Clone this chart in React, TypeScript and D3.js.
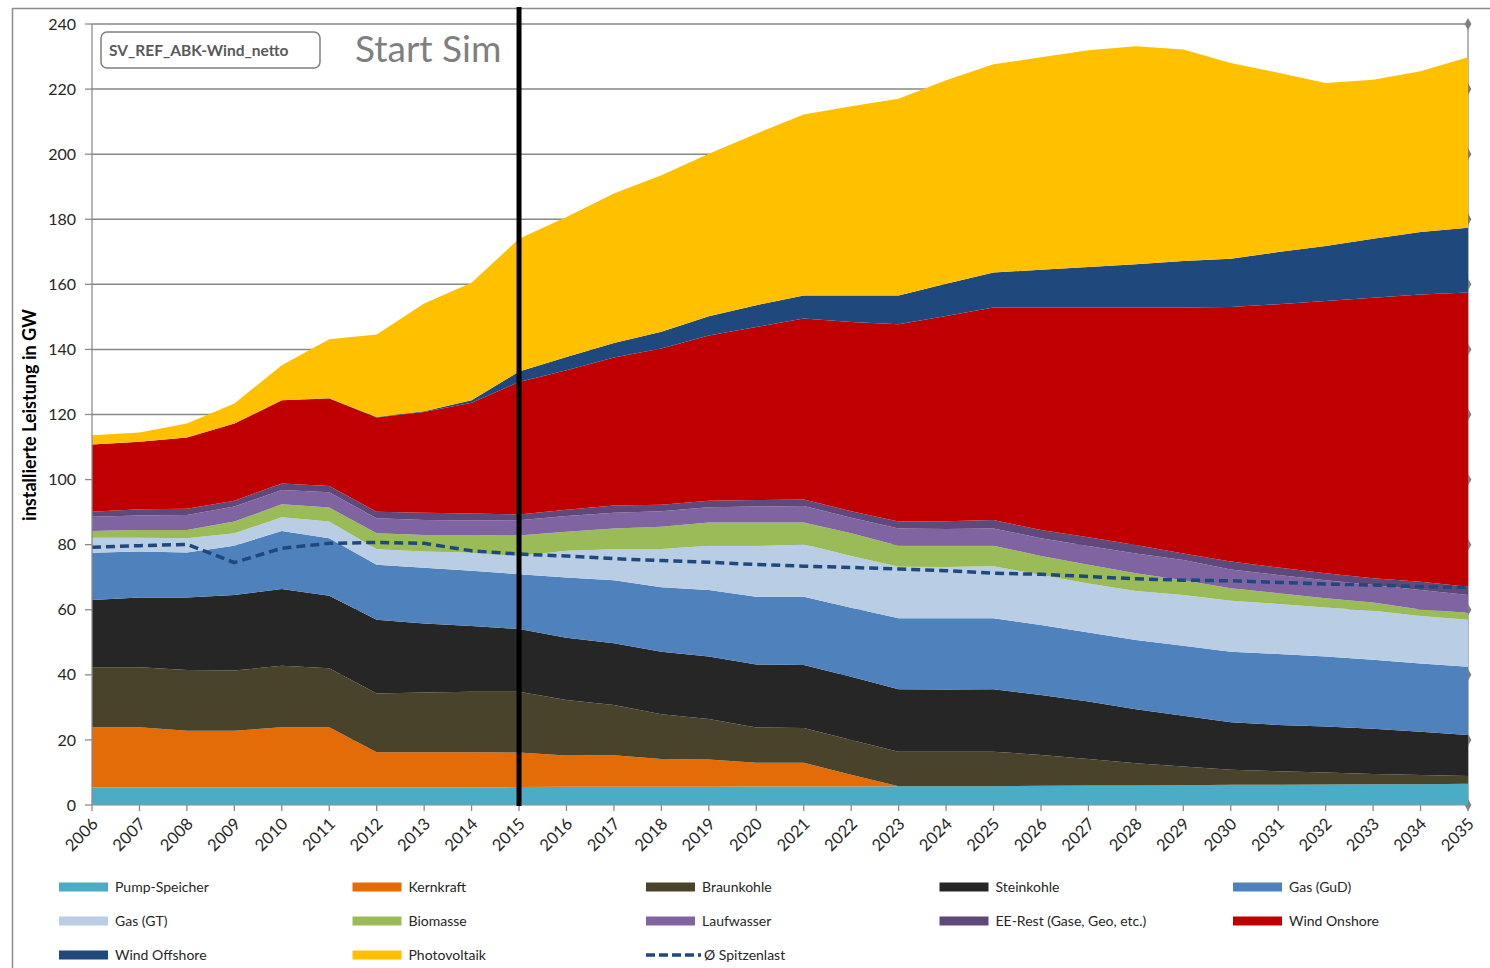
import React, { useEffect, useRef } from 'react';
import * as d3 from 'd3';

// years 2006..2035
const years = d3.range(2006, 2036);

const pumpSpeicher = [5.4, 5.4, 5.4, 5.4, 5.4, 5.4, 5.4, 5.4, 5.4, 5.5, 5.6, 5.6, 5.6, 5.6, 5.7, 5.7, 5.7, 5.8, 5.8, 5.8, 5.9, 6.0, 6.0, 6.1, 6.2, 6.2, 6.3, 6.4, 6.4, 6.5];
const kernkraft = [18.5, 18.5, 17.4, 17.4, 18.5, 18.5, 10.8, 10.8, 10.8, 10.6, 9.6, 9.7, 8.5, 8.4, 7.3, 7.3, 3.6, 0, 0, 0, 0, 0, 0, 0, 0, 0, 0, 0, 0, 0];
const braunkohle = [18.4, 18.4, 18.7, 18.5, 18.9, 18.1, 18.1, 18.4, 18.6, 18.7, 17.1, 15.4, 13.8, 12.4, 10.8, 10.7, 10.7, 10.6, 10.6, 10.6, 9.5, 8.1, 6.8, 5.7, 4.6, 4.2, 3.7, 3.1, 2.8, 2.4];
const steinkohle = [20.7, 21.5, 22.3, 23.2, 23.6, 22.3, 22.6, 21.2, 20.2, 19.3, 19.1, 19.0, 19.2, 19.2, 19.4, 19.3, 19.4, 19.2, 19.1, 19.2, 18.4, 17.7, 16.6, 15.6, 14.6, 14.2, 14.1, 13.9, 13.3, 12.6];
const gasGuD = [14.5, 14.1, 13.8, 15.2, 17.8, 17.7, 16.9, 17.1, 17.0, 16.8, 18.5, 19.4, 19.8, 20.5, 20.8, 21.0, 21.2, 21.8, 21.9, 21.8, 21.5, 21.2, 21.3, 21.5, 21.7, 21.8, 21.5, 21.2, 21.0, 21.0];
const gasGT = [4.6, 4.2, 4.4, 3.8, 4.2, 5.1, 4.8, 5.0, 5.5, 5.6, 8.2, 9.5, 11.8, 13.6, 15.7, 16.1, 15.9, 15.8, 15.7, 16.0, 15.4, 15.1, 15.1, 15.6, 15.7, 15.4, 15.1, 15.1, 14.6, 14.4];
const biomasse = [2.1, 2.4, 2.5, 3.6, 4.0, 4.3, 4.9, 5.1, 5.5, 6.3, 5.9, 6.4, 6.8, 7.1, 7.1, 6.7, 7.0, 6.5, 6.6, 6.3, 5.8, 5.7, 5.4, 4.6, 3.8, 3.3, 2.8, 2.5, 2.0, 2.2];
const laufwasser = [4.4, 4.5, 4.6, 4.6, 4.4, 4.7, 4.6, 4.6, 4.4, 4.7, 4.8, 4.8, 4.8, 4.7, 4.9, 5.1, 4.8, 5.3, 5.1, 5.3, 5.5, 5.8, 6.1, 6.2, 5.8, 5.6, 5.6, 5.4, 6.0, 5.4];
const eeRest = [1.5, 1.9, 1.9, 1.8, 2.0, 1.9, 2.0, 2.2, 2.2, 1.8, 1.9, 2.2, 2.0, 2.0, 2.0, 2.0, 2.0, 2.1, 2.4, 2.6, 2.5, 2.7, 2.6, 2.0, 2.4, 2.3, 2.1, 2.1, 2.5, 2.6];
const windOnshore = [20.7, 20.7, 21.9, 23.7, 25.6, 26.9, 29.0, 31.0, 34.0, 40.7, 42.9, 45.5, 48.0, 50.8, 53.2, 55.6, 58.1, 60.6, 63.1, 65.3, 68.4, 70.6, 73.0, 75.6, 78.2, 80.9, 83.7, 86.2, 88.3, 90.4];
const windOffshore = [0, 0, 0, 0, 0, 0.1, 0.1, 0.2, 0.8, 3.2, 4.1, 4.5, 5.1, 5.9, 6.7, 7.1, 8.2, 8.9, 9.9, 10.7, 11.6, 12.4, 13.3, 14.3, 14.9, 16.0, 16.9, 18.1, 19.2, 19.9];
const photovoltaik = [2.8, 2.9, 4.3, 6.2, 10.7, 18.1, 25.4, 33.1, 36.1, 40.8, 43.0, 45.9, 48.1, 49.9, 52.7, 55.6, 58.1, 60.4, 62.5, 64.0, 65.3, 66.6, 67.0, 65.0, 60.1, 55.1, 50.1, 48.9, 49.4, 52.4];
const spitzenlast = [79.2, 79.7, 80.1, 74.5, 78.9, 80.4, 80.7, 80.4, 78.1, 77.1, 76.5, 75.7, 75.1, 74.6, 73.9, 73.4, 73.0, 72.5, 72.0, 71.2, 70.9, 70.2, 69.5, 69.1, 68.9, 68.4, 67.9, 67.6, 67.1, 66.9];

const seriesNames = ['Pump-Speicher', 'Kernkraft', 'Braunkohle', 'Steinkohle', 'Gas (GuD)', 'Gas (GT)', 'Biomasse', 'Laufwasser', 'EE-Rest (Gase, Geo, etc.)', 'Wind Onshore', 'Wind Offshore', 'Photovoltaik'];
const seriesValues = [pumpSpeicher, kernkraft, braunkohle, steinkohle, gasGuD, gasGT, biomasse, laufwasser, eeRest, windOnshore, windOffshore, photovoltaik];
const seriesColors = ['#4bacc6', '#e36c09', '#4a432b', '#262626', '#4f81bd', '#b9cde5', '#9bbb59', '#8064a2', '#5f497a', '#c00000', '#1f497d', '#ffc000'];
const yTicks = [0, 20, 40, 60, 80, 100, 120, 140, 160, 180, 200, 220, 240];
const spitzenlastName = 'Ø Spitzenlast';
const simStartYear = 2015;

const FONT = 'Lato, "Open Sans", sans-serif';

function App() {
  const ref = useRef<SVGSVGElement | null>(null);

  useEffect(() => {
    const svg = d3.select(ref.current);
    svg.selectAll('*').remove();

    const x = d3.scaleLinear().domain([2006, 2035]).range([92, 1468]);
    const y = d3.scaleLinear().domain([0, 240]).range([805, 24]);

    const table = years.map((yr, i) => {
      const row: any = { year: yr };
      seriesNames.forEach((n, k) => (row[n] = seriesValues[k][i]));
      return row;
    });
    const stacked = d3.stack().keys(seriesNames)(table);

    // outer frame
    svg.append('rect')
      .attr('x', 12.5).attr('y', 8.5).attr('width', 1500).attr('height', 1000)
      .attr('fill', 'white').attr('stroke', '#8c8c8c').attr('stroke-width', 1.5);

    // gridlines
    svg.append('g').selectAll('line').data(yTicks.filter(d => d > 0)).join('line')
      .attr('x1', 92).attr('x2', 1468)
      .attr('y1', d => y(d)).attr('y2', d => y(d))
      .attr('stroke', '#878787').attr('stroke-width', 1.5);

    // right axis with markers
    svg.append('line').attr('x1', 1468).attr('x2', 1468).attr('y1', y(240)).attr('y2', y(0))
      .attr('stroke', '#8c8c8c').attr('stroke-width', 1.3);
    svg.append('g').selectAll('path').data(yTicks).join('path')
      .attr('d', d3.symbol(d3.symbolDiamond, 40)() as string)
      .attr('transform', d => `translate(${x(2035)},${y(d)})`)
      .attr('fill', '#7f7f7f');

    // stacked areas
    const area = d3.area<any>()
      .x(d => x(d.data.year))
      .y0(d => y(d[0]))
      .y1(d => y(d[1]));
    svg.append('g').selectAll('path').data(stacked).join('path')
      .attr('d', area)
      .attr('fill', (_, i) => seriesColors[i]);

    // spitzenlast dashed line
    const line = d3.line<number>()
      .x((_, i) => x(years[i]))
      .y(d => y(d));
    svg.append('path')
      .datum(spitzenlast)
      .attr('d', line)
      .attr('fill', 'none')
      .attr('stroke', '#1f497d')
      .attr('stroke-width', 3.5)
      .attr('stroke-dasharray', '9,5');

    // left axis
    svg.append('line').attr('x1', 92).attr('x2', 92).attr('y1', y(240)).attr('y2', y(0))
      .attr('stroke', '#8c8c8c').attr('stroke-width', 1.3);
    svg.append('line').attr('x1', 92).attr('x2', 1468).attr('y1', y(0)).attr('y2', y(0))
      .attr('stroke', '#8c8c8c').attr('stroke-width', 1);
    const yAx = svg.append('g');
    yAx.selectAll('line').data(yTicks).join('line')
      .attr('x1', 85).attr('x2', 92).attr('y1', d => y(d)).attr('y2', d => y(d))
      .attr('stroke', '#8c8c8c').attr('stroke-width', 1.3);
    yAx.selectAll('text').data(yTicks).join('text')
      .attr('x', 76).attr('y', d => y(d)).attr('dy', '0.35em')
      .attr('text-anchor', 'end').attr('font-size', 16).attr('fill', '#262626')
      .attr('font-family', FONT)
      .text(d => d);

    // x axis
    const xAx = svg.append('g');
    xAx.selectAll('line').data(years).join('line')
      .attr('x1', d => x(d)).attr('x2', d => x(d)).attr('y1', 805).attr('y2', 811)
      .attr('stroke', '#8c8c8c').attr('stroke-width', 1.3);
    xAx.selectAll('text').data(years).join('text')
      .attr('transform', d => `translate(${x(d) + 3},${821}) rotate(-45)`)
      .attr('text-anchor', 'end').attr('dy', '0.35em')
      .attr('font-size', 16.5).attr('fill', '#262626').attr('font-family', FONT)
      .text(d => d);

    // y axis title
    svg.append('text')
      .attr('transform', 'translate(36,415) rotate(-90)')
      .attr('text-anchor', 'middle')
      .attr('font-size', 18).attr('font-weight', 'bold').attr('fill', '#000')
      .attr('font-family', FONT)
      .text('installierte Leistung in GW');

    // simulation start marker
    svg.append('line')
      .attr('x1', x(simStartYear)).attr('x2', x(simStartYear))
      .attr('y1', 7).attr('y2', 806)
      .attr('stroke', '#000').attr('stroke-width', 5);

    // scenario label
    svg.append('rect')
      .attr('x', 101).attr('y', 32).attr('width', 219).attr('height', 36).attr('rx', 6)
      .attr('fill', 'white').attr('stroke', '#7f7f7f').attr('stroke-width', 1.5);
    svg.append('text')
      .attr('x', 109).attr('y', 56)
      .attr('font-size', 15.5).attr('font-weight', 'bold').attr('fill', '#595959')
      .attr('font-family', FONT)
      .text('SV_REF_ABK-Wind_netto');
    svg.append('text')
      .attr('x', 355).attr('y', 62)
      .attr('font-size', 37).attr('fill', '#7f7f7f')
      .attr('font-family', FONT)
      .text('Start Sim');

    // legend
    const legendItems = seriesNames.map((n, i) => ({ name: n, color: seriesColors[i], dashed: false }));
    legendItems.push({ name: spitzenlastName, color: '#1f497d', dashed: true });
    const lg = svg.append('g').selectAll('g').data(legendItems).join('g')
      .attr('transform', (_, i) => `translate(${59 + (i % 5) * 293.5},${887 + Math.floor(i / 5) * 34})`);
    lg.filter(d => !d.dashed).append('rect')
      .attr('x', 0).attr('y', -4.5).attr('width', 49).attr('height', 9)
      .attr('fill', d => d.color);
    lg.filter(d => d.dashed).append('line')
      .attr('x1', 0).attr('x2', 55).attr('y1', 0).attr('y2', 0)
      .attr('stroke', d => d.color).attr('stroke-width', 3.5)
      .attr('stroke-dasharray', '9,4');
    lg.append('text')
      .attr('x', d => (d.dashed ? 58 : 56)).attr('y', 0).attr('dy', '0.35em')
      .attr('font-size', 14).attr('fill', '#262626').attr('font-family', FONT)
      .text(d => d.name);
  }, []);

  return (
    <svg
      ref={ref}
      width={1490}
      height={968}
      style={{ position: 'absolute', left: 0, top: 0, background: 'white' }}
    />
  );
}

export default App;
